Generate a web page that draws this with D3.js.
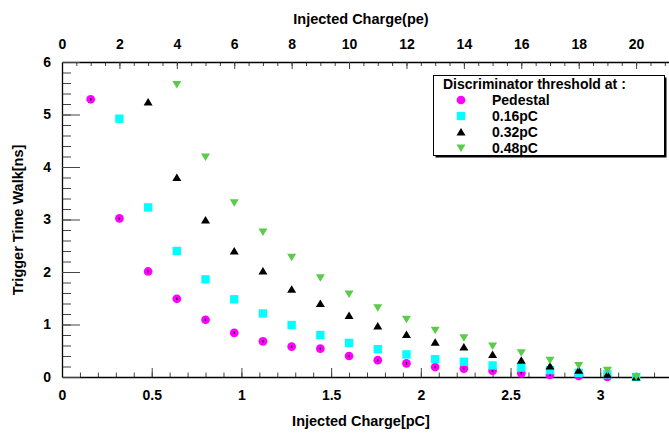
<!DOCTYPE html>
<html>
<head>
<meta charset="utf-8">
<script src="https://cdn.jsdelivr.net/npm/d3@7"></script>
<style>
    body { margin: 0; background: #fff; }
    text { font-family: "Liberation Sans", Arial, sans-serif; font-weight: bold; }
</style>
</head>
<body>
<svg id="mainFrame"></svg>
<script>
// injected charge of each point, in pC (1 pe = 0.16 pC)
const chargePC = [0.16, 0.32, 0.48, 0.64, 0.80, 0.96, 1.12, 1.28, 1.44, 1.60,
    1.76, 1.92, 2.08, 2.24, 2.40, 2.56, 2.72, 2.88, 3.04, 3.20]
const peToPC = 0.16

// time walk values [ns], each series starts at a different charge index
const pedestal = [5.29, 3.02, 2.01, 1.49, 1.09, 0.84, 0.68, 0.58, 0.54, 0.40,
    0.32, 0.26, 0.19, 0.16, 0.12, 0.07, 0.04, 0.02, 0.00]
const thr016 = [4.92, 3.23, 2.40, 1.86, 1.48, 1.21, 0.99, 0.80, 0.65, 0.53,
    0.43, 0.34, 0.29, 0.22, 0.18, 0.13, 0.08, 0.05, 0.00]
const thr032 = [5.24, 3.80, 2.99, 2.40, 2.02, 1.67, 1.40, 1.17, 0.97, 0.81,
    0.66, 0.57, 0.43, 0.32, 0.21, 0.13, 0.05, 0.00]
const thr048 = [5.57, 4.19, 3.32, 2.76, 2.28, 1.89, 1.58, 1.32, 1.10, 0.89,
    0.75, 0.59, 0.46, 0.32, 0.22, 0.13, 0.01]

const series = [
    { name: 'Pedestal', values: pedestal, start: 0, shape: 'circle', color: '#ff00ff' },
    { name: '0.16pC', values: thr016, start: 1, shape: 'square', color: '#00ffff' },
    { name: '0.32pC', values: thr032, start: 2, shape: 'up', color: '#000000' },
    { name: '0.48pC', values: thr048, start: 3, shape: 'down', color: '#5ccb4a' }
]

const xTicks = [0, 0.5, 1, 1.5, 2, 2.5, 3]
const xTopTicks = [0, 2, 4, 6, 8, 10, 12, 14, 16, 18, 20]
const yTicks = [0, 1, 2, 3, 4, 5, 6]

const legendTitle = 'Discriminator threshold at :'
const xTitle = 'Injected Charge[pC]'
const xTopTitle = 'Injected Charge(pe)'
const yTitle = 'Trigger Time Walk[ns]'

const width = 669, height = 433
const frame = { left: 62, top: 62, bottom: 377, right: 672 }

const svg = d3.select('#mainFrame')
    .attr('width', width)
    .attr('height', height)

const xMax = 3.4
const xScale = d3.scaleLinear().domain([0, xMax]).range([frame.left, frame.right])
const xTopScale = d3.scaleLinear().domain([0, xMax / peToPC]).range([frame.left, frame.right])
const yScale = d3.scaleLinear().domain([0, 6]).range([frame.bottom, frame.top])

const plain = d3.format('')

const styleAxis = g => {
    g.selectAll('text').attr('font-size', 14).attr('fill', '#000')
}

// ---- axes ----
const xMinor = svg.append('g').attr('transform', `translate(0,${frame.bottom})`)
    .call(d3.axisBottom(xScale).tickValues(d3.range(0, xMax + 0.001, 0.1)).tickSize(-4.5).tickFormat(''))
xMinor.select('.domain').remove()
svg.append('g').attr('transform', `translate(0,${frame.bottom})`)
    .call(d3.axisBottom(xScale).tickValues(xTicks).tickSize(-9).tickSizeOuter(0).tickPadding(13).tickFormat(plain))
    .call(styleAxis)

const topMinor = svg.append('g').attr('transform', `translate(0,${frame.top})`)
    .call(d3.axisTop(xTopScale).tickValues(d3.range(0, xMax / peToPC, 0.5)).tickSize(-4).tickFormat(''))
topMinor.select('.domain').remove()
svg.append('g').attr('transform', `translate(0,${frame.top})`)
    .call(d3.axisTop(xTopScale).tickValues(xTopTicks).tickSize(-7).tickSizeOuter(0).tickPadding(13).tickFormat(plain))
    .call(styleAxis)

const yMinor = svg.append('g').attr('transform', `translate(${frame.left},0)`)
    .call(d3.axisLeft(yScale).tickValues(d3.range(0, 6.001, 0.2)).tickSize(-9).tickFormat(''))
yMinor.select('.domain').remove()
svg.append('g').attr('transform', `translate(${frame.left},0)`)
    .call(d3.axisLeft(yScale).tickValues(yTicks).tickSize(-18).tickSizeOuter(0).tickPadding(11).tickFormat(plain))
    .call(styleAxis)

svg.selectAll('.domain').attr('stroke', '#000').attr('stroke-width', 1.3)
svg.selectAll('.tick line').attr('stroke', '#444')

// ---- titles ----
svg.append('text').attr('x', 361).attr('y', 24).attr('text-anchor', 'middle')
    .attr('font-size', 14.5).text(xTopTitle)
svg.append('text').attr('x', 361).attr('y', 426).attr('text-anchor', 'middle')
    .attr('font-size', 14.5).text(xTitle)
svg.append('text').attr('transform', 'translate(23,220) rotate(-90)').attr('text-anchor', 'middle')
    .attr('font-size', 14.5).text(yTitle)

// ---- markers ----
const symbolFor = shape => {
    if (shape === 'circle') return d3.symbol(d3.symbolCircle, 60)()
    if (shape === 'square') return d3.symbol(d3.symbolSquare, 70)()
    return 'M0,-4L4.5,3.5L-4.5,3.5Z'
}
const drawMarker = (g, s) => {
    g.append('path')
        .attr('d', symbolFor(s.shape))
        .attr('transform', s.shape === 'down' ? 'rotate(180)' : null)
        .attr('fill', s.color)
}

const content = svg.append('g').attr('id', 'content')
series.forEach(s => {
    const pts = content.append('g').selectAll('g')
        .data(s.values.map((v, i) => ({ x: chargePC[i + s.start], y: v })))
        .join('g')
        .attr('transform', d => `translate(${xScale(d.x)},${yScale(d.y)})`)
    pts.each(function () { drawMarker(d3.select(this), s) })
    if (s.shape === 'circle') {
        pts.append('rect').attr('x', -0.6).attr('y', -1.2).attr('width', 1.2).attr('height', 2.4).attr('fill', '#000')
    }
})

// ---- legend ----
const legend = svg.append('g').attr('transform', 'translate(433,75)')
legend.append('rect').attr('x', 2.5).attr('y', 2.5).attr('width', 231).attr('height', 80).attr('fill', '#000')
legend.append('rect').attr('x', 0.5).attr('y', 0.5).attr('width', 231).attr('height', 80)
    .attr('fill', '#fff').attr('stroke', '#000')
legend.append('text').attr('x', 10).attr('y', 14).attr('font-size', 14).text(legendTitle)
series.forEach((s, i) => {
    const row = legend.append('g').attr('transform', `translate(28,${25 + i * 16})`)
    drawMarker(row, s)
    row.append('text').attr('x', 31).attr('y', 5).attr('font-size', 14).text(s.name)
})
</script>
</body>
</html>
